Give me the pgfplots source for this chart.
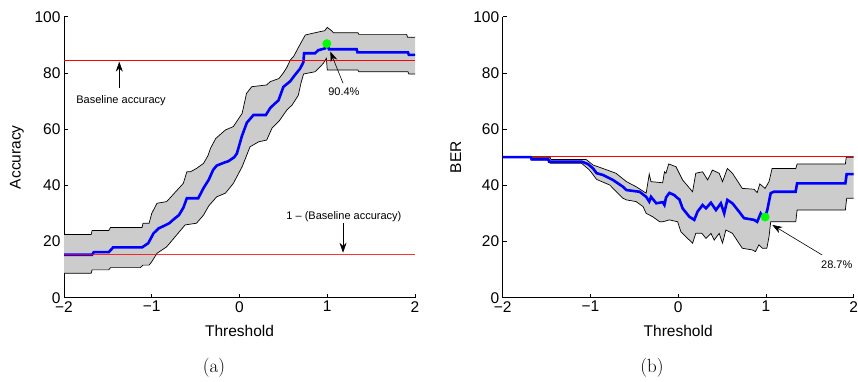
\documentclass[border=0pt]{standalone}
\usepackage{fontspec}
\usepackage{pgfplots}
\pgfplotsset{compat=1.18}
\usetikzlibrary{arrows.meta}
\newfontfamily\hel{Liberation Sans}
\definecolor{bandgray}{RGB}{204,204,204}
\definecolor{pgreen}{RGB}{0,255,0}
\tikzset{arr/.style={-{Stealth[length=10pt,width=7pt]}, line width=0.6pt}}
\pgfplotsset{
  myax/.style={
    scale only axis, width=351pt, height=281pt,
    xmin=-2, xmax=2, ymin=0, ymax=100,
    axis x line*=bottom, axis y line*=left,
    x axis line style={-}, y axis line style={-},
    axis line style={line width=0.8pt},
    tick align=inside, major tick length=4pt,
    tick style={line width=0.7pt, black},
    xtick={-2,-1,0,1,2}, xticklabels={−2,−1,0,1,2},
    ytick={0,20,40,60,80,100},
    /pgf/number format/assume math mode=true,
    ticklabel style={font=\hel\fontsize{15.5}{18}\selectfont},
    label style={font=\hel\fontsize{15.5}{18}\selectfont},
    xlabel style={at={(axis description cs:0.5,-0.118)}, anchor=center},
    ylabel style={at={(axis description cs:-0.134,0.5)}, anchor=center},
    xlabel={Threshold},
    clip=true,
  },
  band/.style={black, line width=0.7pt},
  meanl/.style={blue, line width=2.6pt},
  redl/.style={red, line width=0.9pt},
}
\pgfplotstableread{
x y
-2 22.5
-1.69 22.5
-1.68 23.9
-1.49 23.9
-1.47 25.0
-1.11 25.0
-1.10 26.5
-1.03 26.5
-1.0 30.0
-0.94 33.6
-0.83 34.2
-0.71 38.3
-0.64 40.7
-0.60 44.8
-0.56 44.8
-0.49 46.0
-0.41 47.8
-0.36 50.5
-0.33 53.2
-0.27 56.7
-0.16 59.7
-0.07 60.9
0.03 65.6
0.08 72.7
0.14 75.1
0.31 75.7
0.35 76.9
0.45 78.0
0.50 80.0
0.54 82.0
0.58 84.6
0.62 86.0
0.67 89.0
0.75 93.5
0.92 94.7
0.97 95.0
1.0 96.2
1.05 95.0
1.07 94.3
1.35 94.3
1.36 93.7
1.905 93.7
1.915 92.7
2 92.7
}\upA
\pgfplotstableread{
x y
2 79.6
1.93 79.6
1.92 80.4
1.36 80.4
1.35 81.0
1.0 81.0
0.99 85.2
0.955 83.4
0.92 82.2
0.86 80.4
0.73 79.6
0.70 76.3
0.67 72.0
0.60 68.6
0.54 66.8
0.45 62.8
0.37 60.3
0.31 56.1
0.22 55.5
0.12 53.7
0.03 46.6
-0.07 40.7
-0.16 37.2
-0.26 35.9
-0.35 32.7
-0.41 29.4
-0.49 26.5
-0.62 25.9
-0.83 18.1
-0.94 15.8
-1.0 12.8
-1.03 11.6
-1.10 11.6
-1.13 10.7
-1.47 10.7
-1.49 9.9
-1.68 9.9
-1.69 8.7
-2 8.7
}\loA
\pgfplotstableread{
x y
-2 50
-1.46 50
-1.45 49.2
-1.05 49.2
-0.97 47.2
-0.86 46.0
-0.71 44.3
-0.59 41.3
-0.48 39.5
-0.365 37.2
-0.33 44.0
-0.31 41.3
-0.177 40.9
-0.157 44.8
-0.14 44.3
-0.108 47.6
-0.025 46.6
0.05 41.9
0.164 37.7
0.2 44.3
0.278 44.8
0.335 41.9
0.39 45.4
0.467 44.3
0.505 41.3
0.56 46.0
0.618 44.3
0.73 38.9
0.864 38.6
0.90 37.4
0.93 40.5
0.99 38.9
1.035 41.3
1.07 46.0
1.34 46.0
1.355 47.6
1.905 47.6
1.915 50.0
2 50.0
}\upB
\pgfplotstableread{
x y
2 35.4
1.92 35.4
1.905 31.2
1.355 31.2
1.34 27.0
1.054 27.0
1.035 21.7
1.01 17.6
0.96 17.6
0.92 18.8
0.88 16.4
0.845 17.0
0.73 17.6
0.618 22.9
0.543 24.1
0.505 19.4
0.467 22.9
0.41 20.5
0.373 22.9
0.316 21.1
0.27 22.9
0.2 22.9
0.164 19.4
0.107 21.1
0.03 23.5
-0.006 27.0
-0.10 27.7
-0.177 27.0
-0.21 27.0
-0.29 28.8
-0.365 30.0
-0.40 32.4
-0.48 34.2
-0.59 34.8
-0.63 35.4
-0.78 40.1
-0.93 42.1
-1.01 45.4
-1.10 47.8
-1.46 47.8
-1.47 49.0
-1.67 49.0
-1.68 50
-2 50
}\loB
\begin{document}
\begin{tikzpicture}
% ---------------- (a) ----------------
\begin{axis}[myax, at={(64pt,84.3pt)}, anchor=south west, ylabel={Accuracy}]
\addplot[fill=bandgray, draw=none] table {
x y
-2 22.5
-1.69 22.5
-1.68 23.9
-1.49 23.9
-1.47 25.0
-1.11 25.0
-1.10 26.5
-1.03 26.5
-1.0 30.0
-0.94 33.6
-0.83 34.2
-0.71 38.3
-0.64 40.7
-0.60 44.8
-0.56 44.8
-0.49 46.0
-0.41 47.8
-0.36 50.5
-0.33 53.2
-0.27 56.7
-0.16 59.7
-0.07 60.9
0.03 65.6
0.08 72.7
0.14 75.1
0.31 75.7
0.35 76.9
0.45 78.0
0.50 80.0
0.54 82.0
0.58 84.6
0.62 86.0
0.67 89.0
0.75 93.5
0.92 94.7
0.97 95.0
1.0 96.2
1.05 95.0
1.07 94.3
1.35 94.3
1.36 93.7
1.905 93.7
1.915 92.7
2 92.7
2 79.6
1.93 79.6
1.92 80.4
1.36 80.4
1.35 81.0
1.0 81.0
0.99 85.2
0.955 83.4
0.92 82.2
0.86 80.4
0.73 79.6
0.70 76.3
0.67 72.0
0.60 68.6
0.54 66.8
0.45 62.8
0.37 60.3
0.31 56.1
0.22 55.5
0.12 53.7
0.03 46.6
-0.07 40.7
-0.16 37.2
-0.26 35.9
-0.35 32.7
-0.41 29.4
-0.49 26.5
-0.62 25.9
-0.83 18.1
-0.94 15.8
-1.0 12.8
-1.03 11.6
-1.10 11.6
-1.13 10.7
-1.47 10.7
-1.49 9.9
-1.68 9.9
-1.69 8.7
-2 8.7
};
\addplot[band] table {\upA};
\addplot[band] table {\loA};
\addplot[meanl] table {
x y
-2 15.3
-1.68 15.3
-1.66 16.2
-1.49 16.2
-1.44 17.9
-1.11 17.9
-1.04 19.4
-0.98 22.9
-0.92 24.7
-0.865 25.5
-0.80 26.5
-0.75 27.9
-0.69 29.4
-0.64 32.0
-0.60 35.4
-0.47 35.4
-0.41 39.0
-0.35 42.0
-0.30 45.5
-0.26 47.0
-0.18 48.0
-0.125 48.6
-0.06 50.0
-0.03 51.3
0.027 57.5
0.084 62.3
0.159 65.0
0.30 65.0
0.35 67.5
0.40 69.0
0.444 70.2
0.50 75.0
0.577 77.0
0.633 79.3
0.69 81.5
0.728 83.8
0.736 87.0
0.861 87.0
0.899 88.1
0.975 88.7
0.995 90.4
1.02 88.4
1.335 88.4
1.345 87.3
1.92 87.3
1.93 86.4
2 86.4
};
\addplot[redl] coordinates {(-2,84.6) (2,84.6)};
\addplot[redl, opacity=0.8] coordinates {(-2,15.4) (2,15.4)};
\addplot[only marks, mark=*, mark size=4.2pt, pgreen] coordinates {(0.995,90.4)};
\draw[arr] (axis cs:-1.37,74.7) -- (axis cs:-1.37,84.0);
\node[font=\hel\fontsize{11}{13}\selectfont] at (axis cs:-1.35,70) {Baseline accuracy};
\draw[arr] (axis cs:1.18,76.3) -- (axis cs:1.035,87.6);
\node[font=\hel\fontsize{11}{13}\selectfont] at (axis cs:1.19,73.4) {90.4\%};
\draw[arr] (axis cs:1.18,26.5) -- (axis cs:1.18,16.0);
\node[font=\hel\fontsize{11}{13}\selectfont] at (axis cs:1.19,28.7) {1 – (Baseline accuracy)};
\end{axis}
% ---------------- (b) ----------------
\begin{axis}[myax, at={(502.7pt,84.3pt)}, anchor=south west, ylabel={BER}]
\addplot[fill=bandgray, draw=none] table {
x y
-2 50
-1.46 50
-1.45 49.2
-1.05 49.2
-0.97 47.2
-0.86 46.0
-0.71 44.3
-0.59 41.3
-0.48 39.5
-0.365 37.2
-0.33 44.0
-0.31 41.3
-0.177 40.9
-0.157 44.8
-0.14 44.3
-0.108 47.6
-0.025 46.6
0.05 41.9
0.164 37.7
0.2 44.3
0.278 44.8
0.335 41.9
0.39 45.4
0.467 44.3
0.505 41.3
0.56 46.0
0.618 44.3
0.73 38.9
0.864 38.6
0.90 37.4
0.93 40.5
0.99 38.9
1.035 41.3
1.07 46.0
1.34 46.0
1.355 47.6
1.905 47.6
1.915 50.0
2 50.0
2 35.4
1.92 35.4
1.905 31.2
1.355 31.2
1.34 27.0
1.054 27.0
1.035 21.7
1.01 17.6
0.96 17.6
0.92 18.8
0.88 16.4
0.845 17.0
0.73 17.6
0.618 22.9
0.543 24.1
0.505 19.4
0.467 22.9
0.41 20.5
0.373 22.9
0.316 21.1
0.27 22.9
0.2 22.9
0.164 19.4
0.107 21.1
0.03 23.5
-0.006 27.0
-0.10 27.7
-0.177 27.0
-0.21 27.0
-0.29 28.8
-0.365 30.0
-0.40 32.4
-0.48 34.2
-0.59 34.8
-0.63 35.4
-0.78 40.1
-0.93 42.1
-1.01 45.4
-1.10 47.8
-1.46 47.8
-1.47 49.0
-1.67 49.0
-1.68 50
-2 50
};
\addplot[redl] coordinates {(-2,50.1) (2,50.1)};
\addplot[band] table {\upB};
\addplot[band] table {\loB};
\addplot[meanl] table {
x y
-2 50
-1.68 50
-1.67 49.2
-1.48 49.2
-1.47 48.4
-1.10 48.4
-1.03 47.6
-0.97 46.0
-0.93 44.3
-0.86 43.7
-0.744 41.9
-0.63 39.5
-0.59 38.3
-0.44 37.7
-0.365 35.9
-0.33 34.2
-0.31 35.9
-0.25 33.6
-0.177 34.0
-0.157 33.0
-0.138 35.7
-0.10 37.3
-0.044 36.5
-0.025 35.9
0.013 35.0
0.05 31.8
0.127 28.8
0.183 27.7
0.22 30.6
0.278 33.0
0.316 31.8
0.373 33.8
0.43 31.2
0.486 33.6
0.524 30.0
0.56 34.8
0.618 33.6
0.694 30.6
0.75 28.3
0.864 27.7
0.90 27.0
0.94 30.0
0.978 28.3
0.99 28.7
1.015 31.2
1.054 37.2
1.09 37.7
1.338 37.7
1.355 40.7
1.905 40.7
1.92 44.0
2 44.0
};
\addplot[only marks, mark=*, mark size=4.2pt, pgreen] coordinates {(0.99,28.7)};
\draw[arr] (axis cs:1.64,15.2) -- (axis cs:1.072,25.9);
\node[font=\hel\fontsize{11}{13}\selectfont] at (axis cs:1.807,11.6) {28.7\%};
\end{axis}
\node[font=\fontsize{19}{22}\selectfont] at (214pt,14pt) {(a)};
\node[font=\fontsize{19}{22}\selectfont] at (652pt,14pt) {(b)};
\pgfresetboundingbox
\useasboundingbox (0pt,0pt) rectangle (858pt,382pt);
\end{tikzpicture}
\end{document}
